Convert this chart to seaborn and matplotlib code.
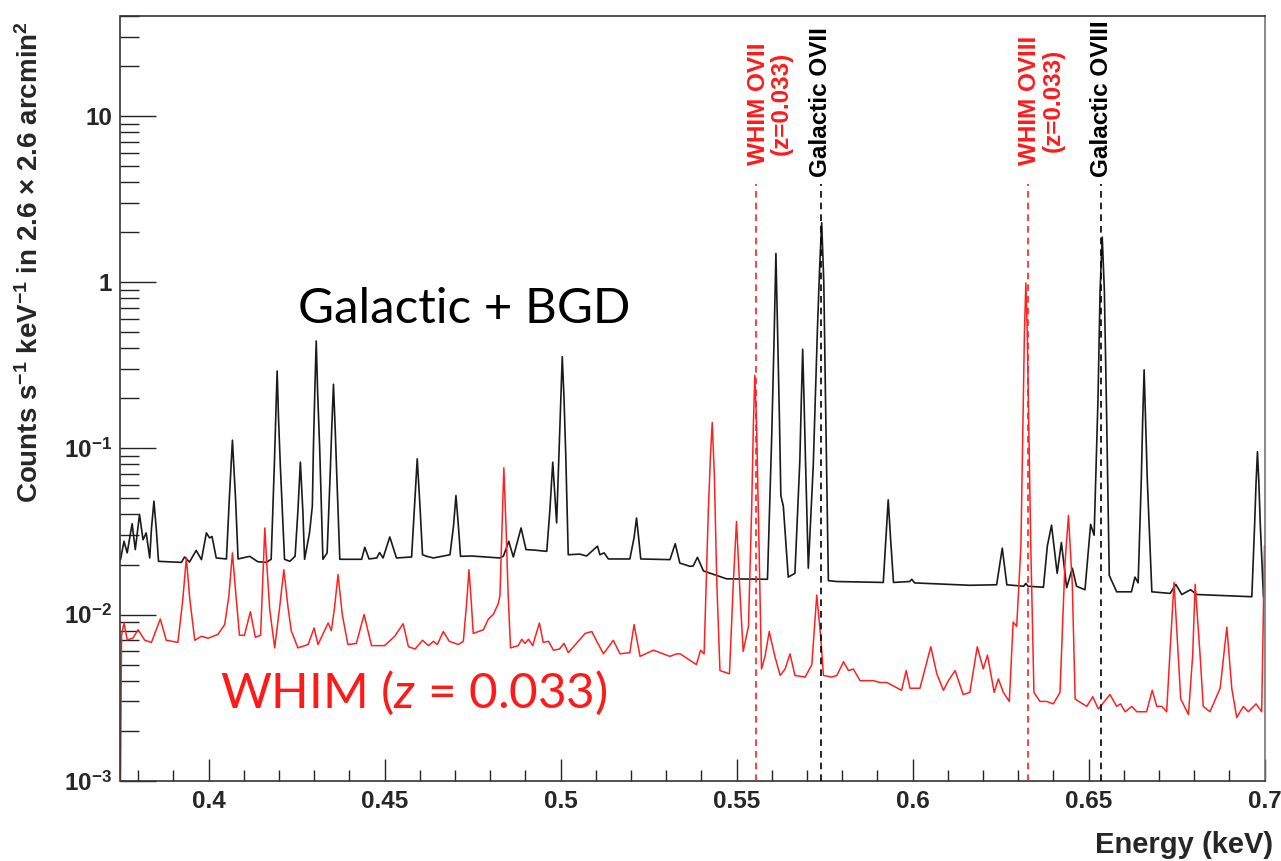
import numpy as np
import pandas as pd
import matplotlib
matplotlib.use("Agg")
import matplotlib.pyplot as plt
import matplotlib.ticker as mticker
import seaborn as sns

# ---------------- data ----------------
energy_bgd = [
    0.3750, 0.3760, 0.3769, 0.3783, 0.3792, 0.3804, 0.3814, 0.3823, 0.3833, 0.3838,
    0.3845, 0.3852, 0.3858, 0.3923, 0.3932, 0.3946, 0.3965, 0.3980, 0.3994, 0.4003,
    0.4010, 0.4022, 0.4051, 0.4059, 0.4068, 0.4077, 0.4084, 0.4117, 0.4140, 0.4164,
    0.4178, 0.4187, 0.4191, 0.4195, 0.4199, 0.4204, 0.4216, 0.4231, 0.4246, 0.4254,
    0.4261, 0.4268, 0.4273, 0.4287, 0.4295, 0.4298, 0.4302, 0.4306, 0.4310, 0.4316,
    0.4325, 0.4337, 0.4346, 0.4350, 0.4355, 0.4360, 0.4364, 0.4373, 0.4435, 0.4444,
    0.4456, 0.4478, 0.4486, 0.4496, 0.4515, 0.4534,
    0.4577, 0.4585, 0.4593, 0.4601, 0.4608, 0.4620, 0.4639, 0.4686, 0.4696, 0.4703,
    0.4710, 0.4716, 0.4748, 0.4828, 0.4838, 0.4853, 0.4866, 0.4888, 0.4902, 0.4928,
    0.4961, 0.4970, 0.4978, 0.4989, 0.4997, 0.5001, 0.5005, 0.5010, 0.5015, 0.5022,
    0.5055, 0.5074, 0.5105, 0.5112, 0.5124, 0.5136, 0.5197, 0.5209, 0.5216, 0.5222,
    0.5228, 0.5311, 0.5326, 0.5339,
    0.5368, 0.5377, 0.5389, 0.5406, 0.5472, 0.5588, 0.5600, 0.5607, 0.5612, 0.5617,
    0.5622, 0.5626, 0.5633, 0.5647, 0.5666, 0.5680, 0.5684, 0.5688, 0.5692, 0.5696,
    0.5704, 0.5718, 0.5730, 0.5736, 0.5742, 0.5748, 0.5753, 0.5761, 0.5785, 0.5917,
    0.5924, 0.5931, 0.5938, 0.5946, 0.5992, 0.5998, 0.6006,
    0.6163, 0.6239, 0.6255, 0.6268, 0.6316, 0.6322, 0.6328, 0.6372, 0.6383, 0.6395,
    0.6411, 0.6423, 0.6438, 0.6454, 0.6466, 0.6490, 0.6506, 0.6516, 0.6527, 0.6533,
    0.6539, 0.6545, 0.6551, 0.6559, 0.6580, 0.6622, 0.6632, 0.6641, 0.6650, 0.6654,
    0.6658, 0.6662, 0.6667, 0.6680, 0.6732, 0.6748, 0.6765, 0.6790, 0.6807, 0.6964,
    0.6972, 0.6976, 0.6980, 0.6984, 0.6988, 0.6997,
]
counts_bgd = [
    0.0214, 0.0276, 0.0235, 0.0352, 0.0246, 0.0400, 0.0282, 0.0310, 0.0219, 0.033,
    0.0481, 0.032, 0.0209, 0.0206, 0.0222, 0.0207, 0.0243, 0.0214, 0.0310, 0.0289,
    0.0295, 0.0219, 0.0216, 0.049, 0.112, 0.049, 0.0216, 0.0224, 0.0208, 0.0206,
    0.0215, 0.079, 0.15, 0.292, 0.15, 0.079, 0.0215, 0.0209, 0.0224, 0.042,
    0.0826, 0.042, 0.0215, 0.0310, 0.0449, 0.10, 0.22, 0.443, 0.22, 0.098,
    0.0215, 0.0235, 0.073, 0.13, 0.243, 0.13, 0.073, 0.0215, 0.0215, 0.0254,
    0.0216, 0.0219, 0.0236, 0.0219, 0.0293, 0.0219,
    0.0222, 0.044, 0.0865, 0.044, 0.0229, 0.0224, 0.0219, 0.0229, 0.034, 0.052,
    0.034, 0.0224, 0.0225, 0.0219, 0.0225, 0.0276, 0.0222, 0.0332, 0.0246, 0.0244,
    0.0240, 0.043, 0.0826, 0.0356, 0.11, 0.20, 0.356, 0.20, 0.09, 0.0229,
    0.0231, 0.0225, 0.0258, 0.0229, 0.0235, 0.0216, 0.0216, 0.029, 0.0381, 0.029,
    0.0216, 0.0214, 0.0267, 0.0204,
    0.0195, 0.0196, 0.0221, 0.0183, 0.0164, 0.0163, 0.117, 0.48, 1.49, 0.48,
    0.15, 0.052, 0.0449, 0.0168, 0.0177, 0.085, 0.19, 0.395, 0.19, 0.085,
    0.019, 0.078, 0.53, 1.2, 2.28, 1.0, 0.19, 0.016, 0.0158, 0.0156,
    0.028, 0.049, 0.028, 0.0156, 0.0158, 0.0163, 0.0155,
    0.0150, 0.0151, 0.0251, 0.0151, 0.0148, 0.0154, 0.0148, 0.0146, 0.0258, 0.0345,
    0.0177, 0.0271, 0.0145, 0.019, 0.0148, 0.0141, 0.0349, 0.030, 0.2, 0.9,
    1.87, 0.9, 0.18, 0.0172, 0.0137, 0.0137, 0.0168, 0.0155, 0.065, 0.15,
    0.297, 0.15, 0.065, 0.0137, 0.0134, 0.0152, 0.0132, 0.0141, 0.0132, 0.0128,
    0.035, 0.062, 0.0955, 0.062, 0.035, 0.0128,
]

energy_whim = [
    0.3750, 0.3753, 0.3760, 0.3769, 0.3785, 0.3800, 0.3819, 0.3838, 0.3863, 0.3880,
    0.3913, 0.3927, 0.3937, 0.3947, 0.3961, 0.3980, 0.3999, 0.4027, 0.4046, 0.4058,
    0.4068, 0.4078, 0.4088, 0.4102, 0.4119, 0.4133, 0.4148, 0.4154, 0.4160, 0.4167,
    0.4174, 0.4188, 0.4202, 0.4214, 0.4226, 0.4235, 0.4254, 0.4283, 0.4300, 0.4311,
    0.4340, 0.4349, 0.4358, 0.4368, 0.4380, 0.4396, 0.4420, 0.4442, 0.4463, 0.4500,
    0.4529, 0.4553, 0.4568, 0.4587, 0.4608, 0.4625, 0.4639, 0.4650, 0.4667, 0.4684,
    0.4710, 0.4724, 0.4733, 0.4740, 0.4747, 0.4752, 0.4767, 0.4781, 0.4795, 0.4809,
    0.4823, 0.4828, 0.4834, 0.4839, 0.4845, 0.4851, 0.4858, 0.4880, 0.4890, 0.4899,
    0.4909, 0.4921, 0.4940, 0.4951, 0.4966, 0.4980, 0.4997, 0.5010, 0.5022, 0.5048,
    0.5070, 0.5089, 0.5103, 0.5122, 0.5150, 0.5169, 0.5197, 0.5209, 0.5226, 0.5264,
    0.5292, 0.5311, 0.5330,
    0.5340, 0.5368, 0.5386, 0.5398, 0.5408, 0.5420, 0.5426, 0.5431, 0.5437, 0.5444,
    0.5453, 0.5480, 0.5491, 0.5500, 0.5511, 0.5519, 0.5534, 0.5543, 0.5548, 0.5552,
    0.5557, 0.5562, 0.5571, 0.5581, 0.5593, 0.5609, 0.5624, 0.5638, 0.5652, 0.5666,
    0.5695, 0.5714, 0.5728, 0.5739, 0.5747, 0.5771, 0.5785, 0.5804, 0.5818, 0.5832,
    0.5851, 0.5889, 0.5908, 0.5927, 0.5969, 0.5982, 0.5993, 0.6021, 0.6052, 0.6069,
    0.6088, 0.6102, 0.6121, 0.6144, 0.6163, 0.6184, 0.6201, 0.6213, 0.6232, 0.6244,
    0.6258, 0.6275, 0.6286, 0.6296, 0.6308, 0.6315, 0.6318, 0.6322, 0.6326, 0.6329,
    0.6336, 0.6345, 0.6362, 0.6381, 0.6400, 0.6419, 0.6433, 0.6443, 0.6454, 0.6462,
    0.6495, 0.6512, 0.6528, 0.6561, 0.6580, 0.6591, 0.6604, 0.6623, 0.6637, 0.6665,
    0.6681, 0.6694, 0.6708, 0.6722, 0.6731, 0.6743, 0.6755, 0.6762, 0.6784, 0.6796,
    0.6803, 0.6817, 0.6826, 0.6845, 0.6874, 0.6893, 0.6907, 0.6921, 0.6940, 0.6954,
    0.6976, 0.6992, 0.7000,
]
counts_whim = [
    0.0010, 0.0075, 0.0089, 0.00705, 0.0072, 0.0081, 0.0070, 0.0068, 0.0094, 0.0070,
    0.0068, 0.0123, 0.0219, 0.0123, 0.0070, 0.0074, 0.0072, 0.0076, 0.0087, 0.013,
    0.0235, 0.013, 0.0075, 0.0075, 0.0104, 0.0073, 0.0075, 0.016, 0.0332, 0.018,
    0.0107, 0.0063, 0.011, 0.0186, 0.011, 0.0080, 0.0063, 0.0066, 0.0083, 0.0066,
    0.0089, 0.0080, 0.011, 0.0174, 0.010, 0.0066, 0.0067, 0.0100, 0.0065, 0.0065,
    0.0074, 0.0088, 0.0064, 0.0062, 0.0070, 0.0065, 0.0069, 0.0066, 0.0079, 0.0069,
    0.0066, 0.0069, 0.0115, 0.0186, 0.0115, 0.0077, 0.0079, 0.0081, 0.0094, 0.0100,
    0.0116, 0.0130, 0.035, 0.0764, 0.035, 0.0136, 0.0063, 0.0065, 0.0071, 0.0067,
    0.0071, 0.0065, 0.0089, 0.0068, 0.0069, 0.0061, 0.0062, 0.0067, 0.0059, 0.0068,
    0.0077, 0.0079, 0.0069, 0.0058, 0.0070, 0.0058, 0.0059, 0.0087, 0.0056, 0.0061,
    0.0058, 0.0056, 0.0058,
    0.0058, 0.0053, 0.0050, 0.0061, 0.0058, 0.0427, 0.09, 0.143, 0.07, 0.0156,
    0.0046, 0.0044, 0.0156, 0.0363, 0.0121, 0.0060, 0.0085, 0.0427, 0.14, 0.275,
    0.14, 0.0427, 0.0047, 0.0056, 0.0079, 0.0056, 0.0043, 0.0047, 0.0058, 0.0043,
    0.0042, 0.0050, 0.0131, 0.0074, 0.0043, 0.0042, 0.0043, 0.0052, 0.0046, 0.0047,
    0.0040, 0.0040, 0.0039, 0.0039, 0.0035, 0.0046, 0.0036, 0.0036, 0.0064, 0.0044,
    0.0035, 0.0040, 0.0046, 0.0033, 0.0034, 0.0064, 0.0047, 0.0057, 0.0034, 0.0041,
    0.0034, 0.0030, 0.0090, 0.0085, 0.0258, 0.2, 0.5, 0.99, 0.5, 0.2,
    0.0258, 0.0034, 0.0030, 0.0030, 0.0029, 0.0034, 0.0200, 0.0395, 0.0151, 0.0031,
    0.0028, 0.0032, 0.0027, 0.0033, 0.0028, 0.0029, 0.0026, 0.0028, 0.0026, 0.0026,
    0.0035, 0.0028, 0.0028, 0.0026, 0.0057, 0.0156, 0.0057, 0.0031, 0.0025, 0.0057,
    0.0152, 0.0057, 0.0028, 0.0026, 0.0036, 0.0084, 0.0036, 0.0024, 0.0028, 0.0026,
    0.0029, 0.0026, 0.026,
]

line_energies = [0.5556, 0.5740, 0.6327, 0.6536]
line_labels = ["WHIM OVII\n(z=0.033)", "Galactic OVII", "WHIM OVIII\n(z=0.033)", "Galactic OVIII"]
line_kinds = ["whim", "gal", "whim", "gal"]

x_ticks = [0.4, 0.45, 0.5, 0.55, 0.6, 0.65, 0.7]
x_tick_labels = ["0.4", "0.45", "0.5", "0.55", "0.6", "0.65", "0.7"]
y_ticks = [1e-3, 1e-2, 1e-1, 1, 10]
y_tick_labels = [r"$10^{-3}$", r"$10^{-2}$", r"$10^{-1}$", "1", "10"]
x_range = (0.375, 0.7)
y_range = (1e-3, 40)

# ---------------- style ----------------
sns.set_style("ticks")
plt.rcParams["font.family"] = ["Liberation Sans", "DejaVu Sans"]
plt.rcParams["mathtext.fontset"] = "custom"
plt.rcParams["mathtext.rm"] = "Liberation Sans:bold"
plt.rcParams["mathtext.bf"] = "Liberation Sans:bold"
plt.rcParams["mathtext.it"] = "Lato:italic"
plt.rcParams["axes.linewidth"] = 1.2

BLACK = "#1a1a1a"
RED = "#ff2020"

fig = plt.figure(figsize=(12.81, 8.61), dpi=100)
ax = fig.add_axes([120.5 / 1281, 80.3 / 861, 1144 / 1281, 764.7 / 861])

df_bgd = pd.DataFrame({"energy": energy_bgd, "counts": counts_bgd})
df_whim = pd.DataFrame({"energy": energy_whim, "counts": counts_whim})

sns.lineplot(data=df_bgd, x="energy", y="counts", ax=ax, color=BLACK,
             lw=1.2, estimator=None, sort=False)
sns.lineplot(data=df_whim, x="energy", y="counts", ax=ax, color=RED,
             lw=1.1, estimator=None, sort=False)

ax.set_yscale("log")
ax.set_xlim(*x_range)
ax.set_ylim(*y_range)

# dashed marker lines and their labels
for e, lab, kind in zip(line_energies, line_labels, line_kinds):
    col = "#ff2020" if kind == "whim" else "black"
    ax.axvline(e, ymin=0, ymax=0.78, color=col, ls=(0, (4, 3)), lw=1.2, zorder=3)
    if kind == "gal":
        ax.annotate(lab, xy=(e, 0.789), xycoords=("data", "axes fraction"),
                    xytext=(0, 0), textcoords="offset points",
                    rotation=90, ha="center", va="bottom", fontsize=17.5,
                    fontweight="bold", color="black")
    else:
        ax.annotate(lab, xy=(e, 0.805), xycoords=("data", "axes fraction"),
                    xytext=(10, 0), textcoords="offset points",
                    rotation=90, ha="center", va="bottom", fontsize=17.5,
                    fontweight="bold", color="#ff1a1a", linespacing=1.0,
                    multialignment="center")

# big labels
ax.text(0.155, 0.5985, "Galactic + BGD", transform=ax.transAxes,
        ha="left", va="baseline", fontsize=35.5, family=["Lato", "DejaVu Sans"],
        color="black")
ax.text(0.087, 0.095, r"WHIM ($z$ = 0.033)", transform=ax.transAxes,
        ha="left", va="baseline", fontsize=35.5, family=["Lato", "DejaVu Sans"],
        color="#ff1a1a")

# ticks
ax.xaxis.set_major_locator(mticker.FixedLocator(x_ticks))
ax.xaxis.set_major_formatter(mticker.FixedFormatter(x_tick_labels))
ax.xaxis.set_minor_locator(mticker.MultipleLocator(0.01))
ax.yaxis.set_major_locator(mticker.FixedLocator(y_ticks))
ax.yaxis.set_major_formatter(mticker.FixedFormatter(y_tick_labels))
ax.yaxis.set_minor_locator(mticker.LogLocator(base=10, subs=np.arange(2, 10)))
ax.yaxis.set_minor_formatter(mticker.NullFormatter())

ax.tick_params(axis="both", which="both", direction="in", top=False, right=False,
               width=1.0, color="#222222")
ax.tick_params(axis="y", which="major", length=26, pad=6, labelsize=17.5)
ax.tick_params(axis="y", which="minor", length=13.5)
ax.tick_params(axis="x", which="major", length=16, pad=7, labelsize=17.5)
ax.tick_params(axis="x", which="minor", length=8)
for lbl in ax.get_xticklabels() + ax.get_yticklabels():
    lbl.set_fontweight("bold")

for s in ["top", "right", "left", "bottom"]:
    ax.spines[s].set_visible(True)
    ax.spines[s].set_color("#333333")
    ax.spines[s].set_linewidth(1.2)
ax.spines["right"].set_color("#777777")

ax.set_xlabel("")
ax.set_ylabel("")
fig.text(30 / 1281, 1 - 262 / 861,
         r"Counts s$^{-1}$ keV$^{-1}$ in 2.6 × 2.6 arcmin$^{2}$",
         rotation=90, ha="center", va="center", fontsize=20, fontweight="bold")
fig.text(1273 / 1281, 1 - 845 / 861, "Energy (keV)", ha="right", va="center",
         fontsize=21, fontweight="bold")

fig.savefig("out.png", dpi=100)
